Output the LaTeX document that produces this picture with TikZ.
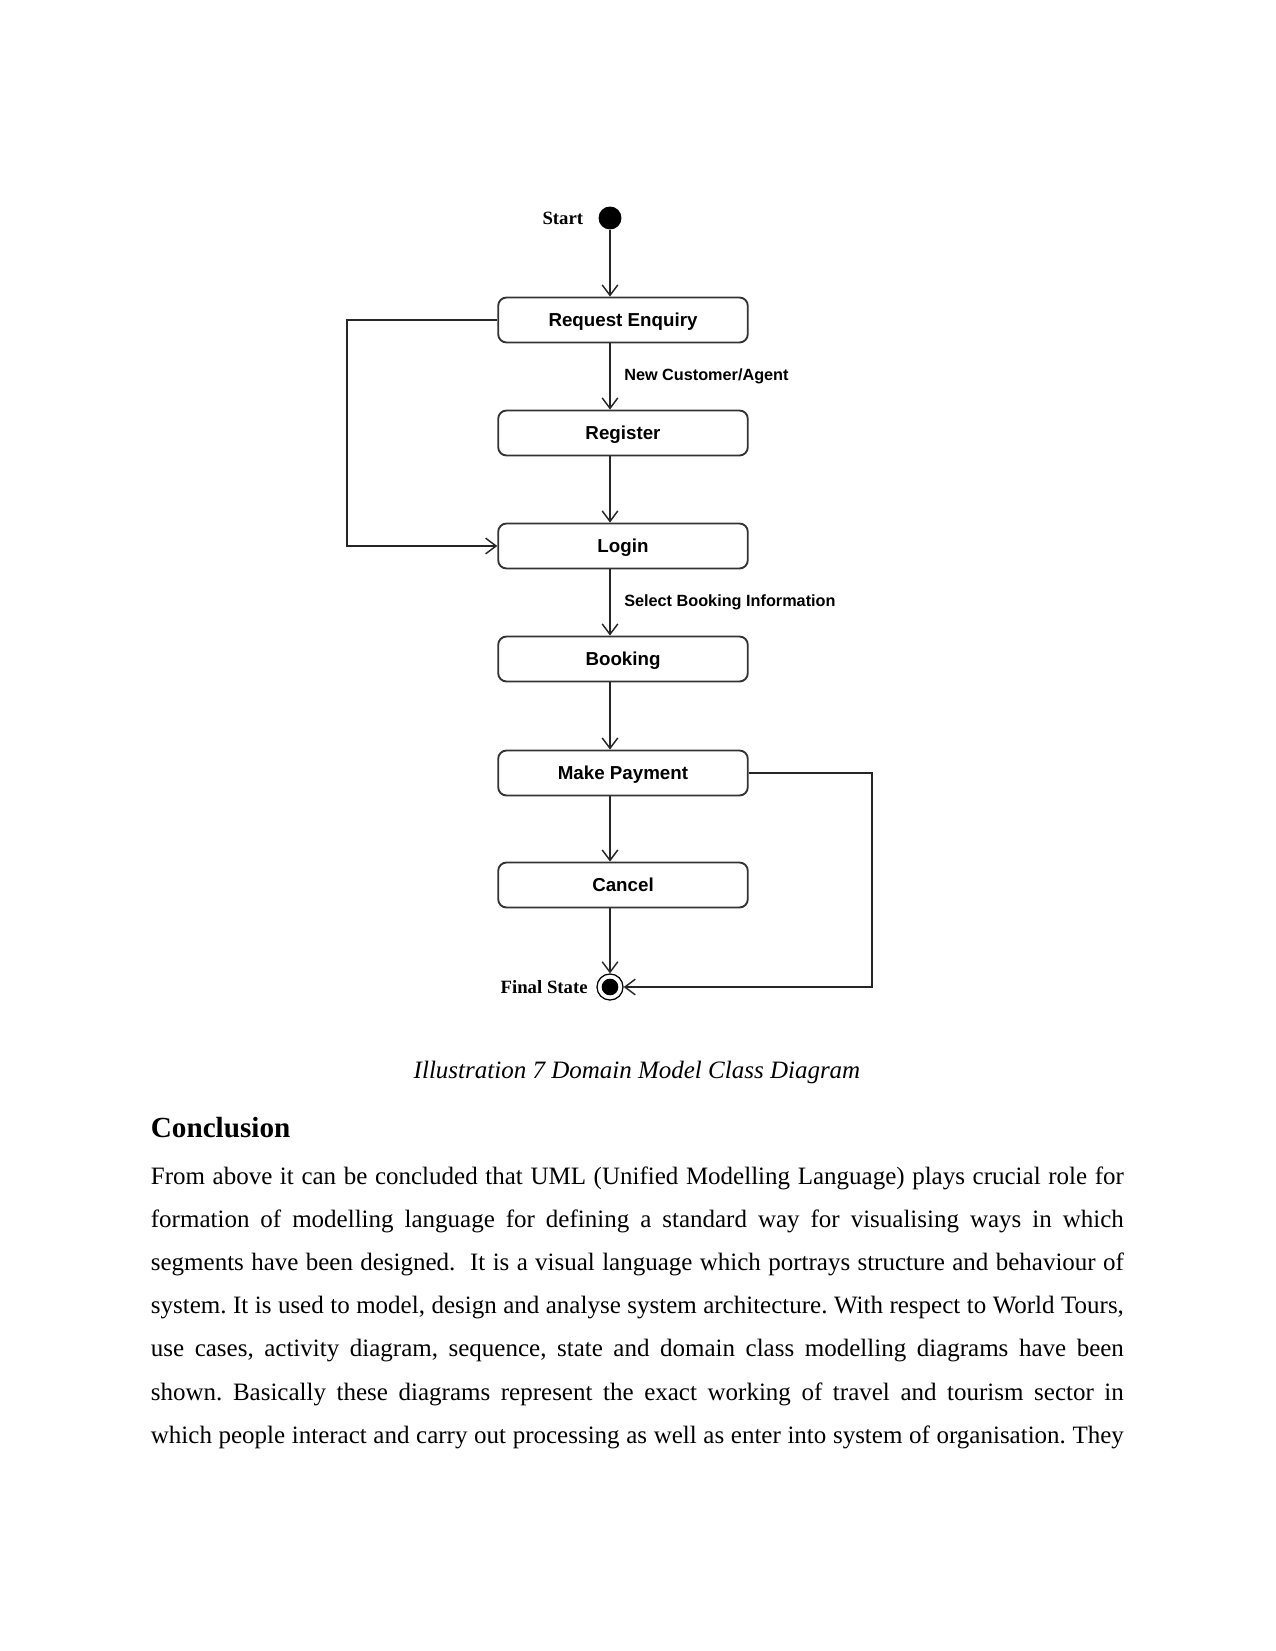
\documentclass[tikz,border=0pt]{standalone}
\usepackage{fontspec}
\setmainfont{Liberation Serif}
\setsansfont{Liberation Sans}
\usetikzlibrary{positioning,arrows.meta}
\frenchspacing

\begin{document}
\begin{tikzpicture}[
  x=0.48pt, y=-0.48pt,
  st/.style={rectangle, rounded corners=4pt, draw=black!80, line width=0.9pt,
             minimum width=119.8pt, minimum height=21.6pt, inner sep=2pt,
             text height=6.4pt, text depth=0pt,
             font=\sffamily\bfseries\fontsize{9}{11}\selectfont},
  initst/.style={circle, fill=black, inner sep=0pt, minimum size=11pt},
  finalst/.style={circle, draw=black, line width=0.6pt, inner sep=0pt, minimum size=12.5pt,
                  path picture={\fill[black] (path picture bounding box.center) circle (4pt);}},
  lbl/.style={font=\sffamily\bfseries\fontsize{7.8}{9}\selectfont, inner sep=0pt},
  stname/.style={font=\bfseries\fontsize{9}{11}\selectfont, inner sep=0pt},
  tr/.style={-{Straight Barb[length=5pt,width=7.5pt]}, draw=black!85, line width=0.7pt},
  body/.style={anchor=base west, inner sep=0pt, font=\fontsize{12}{14}\selectfont}
]
\useasboundingbox (0,0) rectangle (1275,1651);

% states
\node[initst] (init)   at (610,218) {};
\node[st]     (req)    at (623,320) {Request Enquiry};
\node[st]     (reg)    at (623,433) {Register};
\node[st]     (login)  at (623,546) {Login};
\node[st]     (book)   at (623,659) {Booking};
\node[st]     (pay)    at (623,773) {Make Payment};
\node[st]     (cancel) at (623,885) {Cancel};
\node[finalst] (final) at (610,987) {};
\node[stname, left=7pt of init]  (initlbl)  {Start};
\node[stname, left=4pt of final] (finallbl) {Final State};

\coordinate (lft) at (347,0);
\coordinate (rgt) at (872,0);

% transitions
\draw[tr] (init) -- (init |- req.north);
\draw[tr] (init |- req.south) -- (init |- reg.north)
  node[midway, right=6.5pt, lbl] {New Customer/Agent};
\draw[tr] (init |- reg.south) -- (init |- login.north);
\draw[tr] (init |- login.south) -- (init |- book.north)
  node[midway, right=6.5pt, lbl] {Select Booking Information};
\draw[tr] (init |- book.south) -- (init |- pay.north);
\draw[tr] (init |- pay.south) -- (init |- cancel.north);
\draw[tr] (init |- cancel.south) -- (final);
\draw[tr] (req.west) -- (req.west -| lft) |- (login.west);
\draw[tr] (pay.east) -- (pay.east -| rgt) |- (final);

% caption and text
\node[anchor=base, inner sep=0pt, font=\itshape\fontsize{12}{14}\selectfont] (cap) at (637,1078)
  {Illustration 7 Domain Model Class Diagram};
\node[anchor=base west, inner sep=0pt, font=\bfseries\fontsize{14}{16}\selectfont] (head) at (150.5,1137)
  {Conclusion};
\foreach \t [count=\i] in {
  {From above it can be concluded that UML (Unified Modelling Language) plays crucial role for},
  {formation of modelling language for defining a standard way for visualising ways in which},
  {segments have been designed.\ \ It is a visual language which portrays structure and behaviour of},
  {system. It is used to model, design and analyse system architecture. With respect to World Tours,},
  {use cases, activity diagram, sequence, state and domain class modelling diagrams have been},
  {shown. Basically these diagrams represent the exact working of travel and tourism sector in},
  {which people interact and carry out processing as well as enter into system of organisation. They}}
  \node[body] (line\i) at (150.5,{1184+43.2*(\i-1)}) {\makebox[467pt][s]{\t}};
\end{tikzpicture}
\end{document}
